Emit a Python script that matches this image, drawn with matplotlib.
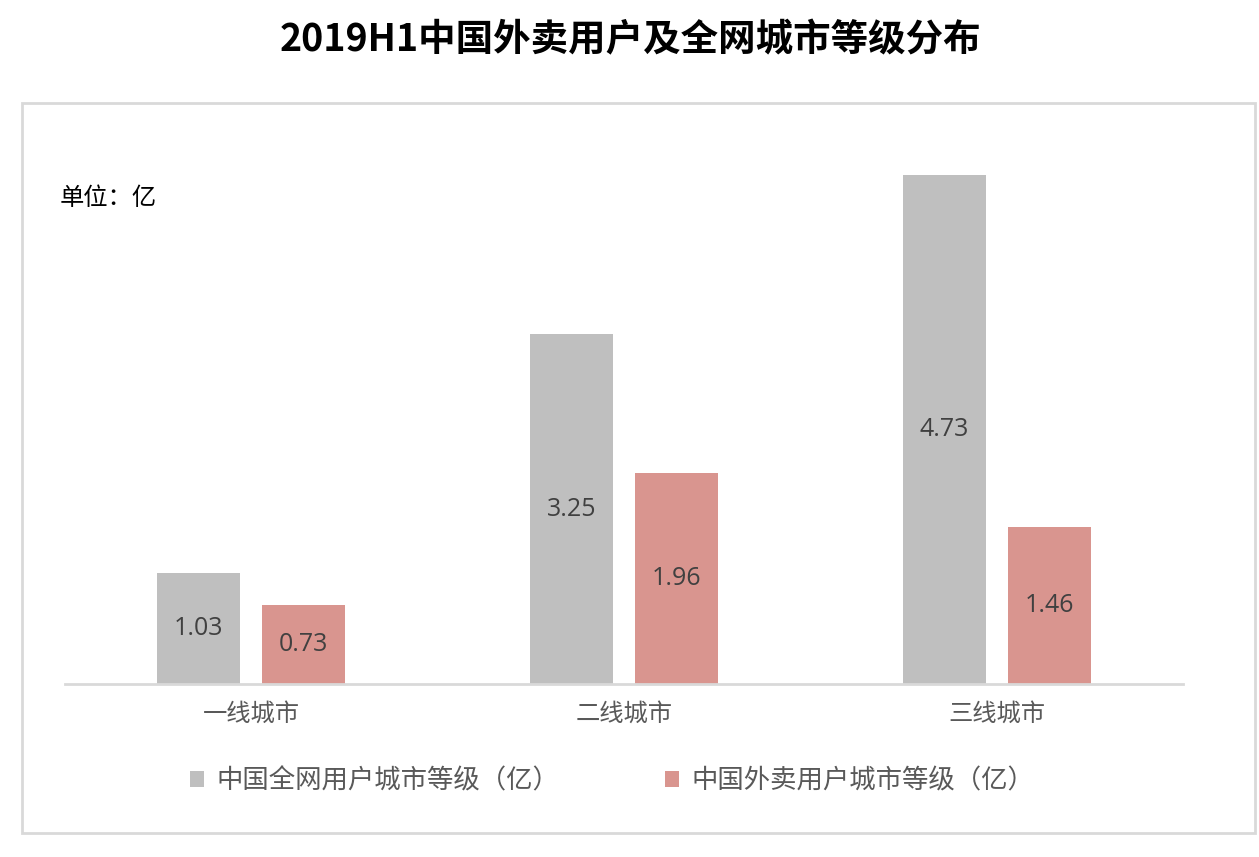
import numpy as np
import matplotlib.pyplot as plt
from matplotlib.patches import Rectangle

plt.rcParams['font.family'] = ['Noto Sans CJK SC', 'DejaVu Sans']

categories = ['一线城市', '二线城市', '三线城市']
all_users = [1.03, 3.25, 4.73]
takeout_users = [0.73, 1.96, 1.46]
series_names = ['中国全网用户城市等级（亿）', '中国外卖用户城市等级（亿）']
colors = ['#BFBFBF', '#D9958F']

fig = plt.figure(figsize=(12.59, 8.57), dpi=100)

# outer frame
fig.patches.append(Rectangle((22 / 1259, 1 - 833 / 857), (1255 - 22) / 1259, (833 - 103) / 857,
                             transform=fig.transFigure, fill=False, edgecolor='#D9D9D9', lw=2))

fig.text(630 / 1259, 1 - 40 / 857, '2019H1中国外卖用户及全网城市等级分布', ha='center', va='center',
         fontsize=27, fontweight='bold', color='black')
fig.text(60 / 1259, 1 - 198 / 857, '单位：亿', ha='left', va='center', fontsize=17.5, color='black')

ax = fig.add_axes([65 / 1259, 1 - 684 / 857, (1183 - 65) / 1259, (684 - 124.5) / 857])
x = np.arange(len(categories))
w = 0.223
off = 0.141
b1 = ax.bar(x - off, all_users, w, color=colors[0], label=series_names[0])
b2 = ax.bar(x + off, takeout_users, w, color=colors[1], label=series_names[1])

for bars, vals in [(b1, all_users), (b2, takeout_users)]:
    for b, v in zip(bars, vals):
        ax.text(b.get_x() + b.get_width() / 2, v / 2, f'{v:.2f}', ha='center', va='center',
                fontsize=18, color='#404040', family=['Open Sans', 'DejaVu Sans'])

ax.set_xlim(-0.5, 2.5)
ax.set_ylim(0, 5.2)
ax.set_xticks(x)
ax.set_xticklabels(categories, fontsize=17.5, color='#595959')
ax.tick_params(axis='x', length=0, pad=12)
ax.set_yticks([])
for s in ['top', 'right', 'left']:
    ax.spines[s].set_visible(False)
ax.spines['bottom'].set_color('#D9D9D9')
ax.spines['bottom'].set_linewidth(2)

leg = fig.legend(loc='center', bbox_to_anchor=(612 / 1259, 1 - 781 / 857), ncol=2, frameon=False,
                 fontsize=19, handlelength=0.55, handleheight=0.55, handletextpad=0.45,
                 columnspacing=4.0)
for t in leg.get_texts():
    t.set_color('#595959')

fig.savefig('out.png', dpi=100)
